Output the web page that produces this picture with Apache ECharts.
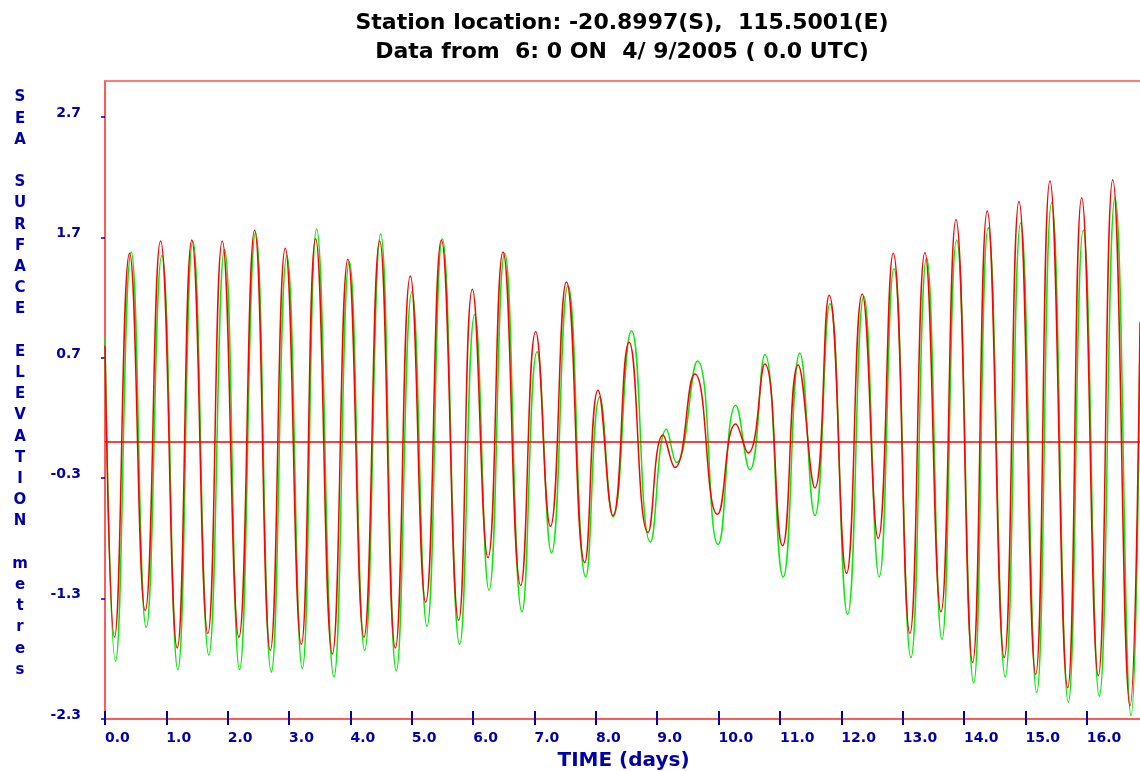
<!DOCTYPE html>
<html>
<head>
<meta charset="utf-8">
<script src="https://cdn.jsdelivr.net/npm/echarts@6/dist/echarts.min.js"></script>
<style>html,body{margin:0;padding:0;background:#fff;}#chart{width:1140px;height:771px;}</style>
</head>
<body>
<div id="chart"></div>
<script>
// Time (days) of red series extrema + endpoints
const redDays = [0, 0.155, 0.40, 0.655, 0.905, 1.177, 1.415, 1.676, 1.911, 2.182, 2.438, 2.694, 2.938, 3.199, 3.432, 3.705, 3.959, 4.220, 4.476, 4.732, 4.976, 5.226, 5.482, 5.764, 5.987, 6.242, 6.486, 6.775, 7.019, 7.259, 7.520, 7.818, 8.035, 8.280, 8.541, 8.850, 9.095, 9.286, 9.612, 9.982, 10.280, 10.481, 10.753, 11.042, 11.296, 11.569, 11.802, 12.085, 12.340, 12.601, 12.845, 13.117, 13.362, 13.623, 13.868, 14.140, 14.378, 14.655, 14.895, 15.167, 15.400, 15.689, 15.917, 16.188, 16.423, 16.705, 16.868];
const redValues = [0.80, -1.62, 1.57, -1.40, 1.67, -1.71, 1.68, -1.59, 1.67, -1.62, 1.76, -1.73, 1.61, -1.68, 1.69, -1.76, 1.52, -1.62, 1.67, -1.71, 1.38, -1.33, 1.68, -1.48, 1.27, -0.96, 1.58, -1.19, 0.92, -0.70, 1.33, -1.00, 0.43, -0.61, 0.83, -0.75, 0.06, -0.21, 0.565, -0.60, 0.15, -0.09, 0.65, -0.86, 0.64, -0.38, 1.22, -1.09, 1.23, -0.80, 1.57, -1.59, 1.575, -1.41, 1.85, -1.83, 1.92, -1.79, 2.00, -1.93, 2.17, -2.04, 2.03, -1.94, 2.18, -2.19, 1.0];
const greenDays = [0, 0.171, 0.427, 0.672, 0.926, 1.187, 1.432, 1.692, 1.948, 2.193, 2.454, 2.710, 2.964, 3.215, 3.449, 3.731, 3.982, 4.231, 4.492, 4.748, 5.002, 5.247, 5.498, 5.780, 6.025, 6.258, 6.514, 6.796, 7.041, 7.276, 7.546, 7.835, 8.063, 8.280, 8.580, 8.890, 9.150, 9.313, 9.656, 9.992, 10.280, 10.509, 10.753, 11.052, 11.324, 11.569, 11.814, 12.102, 12.367, 12.617, 12.857, 13.134, 13.390, 13.639, 13.879, 14.156, 14.394, 14.671, 14.923, 15.184, 15.428, 15.699, 15.943, 16.204, 16.460, 16.721, 16.868];
const greenValues = [0.87, -1.82, 1.58, -1.54, 1.55, -1.89, 1.67, -1.77, 1.60, -1.89, 1.74, -1.91, 1.55, -1.88, 1.77, -1.95, 1.50, -1.73, 1.73, -1.90, 1.25, -1.53, 1.69, -1.68, 1.06, -1.23, 1.57, -1.41, 0.75, -0.92, 1.30, -1.12, 0.375, -0.62, 0.925, -0.83, 0.107, -0.17, 0.675, -0.85, 0.306, -0.23, 0.728, -1.12, 0.74, -0.61, 1.15, -1.43, 1.21, -1.12, 1.44, -1.79, 1.53, -1.64, 1.68, -2.00, 1.78, -1.95, 1.82, -2.08, 1.99, -2.16, 1.76, -2.11, 2.03, -2.27, 0.9];
const yTickStart = -2.3;
const yMax = 3.0;
const xMax = 16.9;
const titleLines = ['Station location: -20.8997(S),  115.5001(E)', 'Data from  6: 0 ON  4/ 9/2005 ( 0.0 UTC)'];
const yAxisTitle = ['SEA', 'SURFACE', 'ELEVATION', 'metres'];
const xAxisTitle = 'TIME (days)';

const blue = '#0000aa';
const border = '#ff5050';
const font = 'DejaVu Sans';

const pair = (xs, ys) => xs.map((x, i) => [x, ys[i]]);
const yName = yAxisTitle.map(w => w.split('').join('\n')).join('\n\n');

const chart = echarts.init(document.getElementById('chart'));
chart.setOption({
  animation: false,
  backgroundColor: '#ffffff',
  title: [{
    text: titleLines.join('\n'),
    left: 622, top: 9, textAlign: 'center', padding: 0,
    textStyle: { fontFamily: font, fontWeight: 'bold', fontSize: 22, lineHeight: 29, color: '#000' }
  }, {
    text: yName,
    left: 20, top: 87, textAlign: 'center', padding: 0,
    textStyle: { fontFamily: font, fontWeight: 'bold', fontSize: 15, lineHeight: 21.2, color: blue, align: 'center' }
  }],
  grid: { left: 105, right: -2, top: 81, bottom: 52, show: true, borderColor: border, borderWidth: 1.5, containLabel: false, outerBoundsMode: 'none' },
  xAxis: [{
    type: 'value', min: 0, max: xMax, interval: 1,
    axisLine: { show: true, onZero: false, lineStyle: { color: border, width: 1.5 } },
    axisTick: { show: true, length: 6, lineStyle: { color: blue, width: 2 } },
    axisLabel: { formatter: v => v.toFixed(1), showMaxLabel: false, color: blue, fontFamily: font, fontWeight: 'bold', fontSize: 14, align: 'left', verticalAlign: 'top', lineHeight: 14, margin: 12 },
    splitLine: { show: false },
    name: xAxisTitle, nameLocation: 'middle', nameGap: 32,
    nameTextStyle: { color: blue, fontFamily: font, fontWeight: 'bold', fontSize: 20, lineHeight: 20 }
  }, {
    type: 'value', min: 0, max: xMax, interval: 1, position: 'bottom',
    axisLine: { show: false, onZero: false },
    axisTick: { show: true, inside: true, length: 8, lineStyle: { color: blue, width: 2 } },
    axisLabel: { show: false },
    splitLine: { show: false }
  }],
  yAxis: {
    type: 'value', min: yTickStart, max: yMax, interval: 1,
    axisLine: { show: true, onZero: false, lineStyle: { color: border, width: 1.5 } },
    axisTick: { show: true, length: 4, lineStyle: { color: blue, width: 1.5 } },
    axisLabel: { formatter: v => v.toFixed(1), showMaxLabel: false, color: blue, fontFamily: font, fontWeight: 'bold', fontSize: 14, margin: 24, verticalAlign: 'bottom', lineHeight: 8 },
    splitLine: { show: false }
  },
  series: [{
    name: 'green', type: 'line', data: pair(greenDays, greenValues), smooth: 0.5,
    showSymbol: false, symbol: 'none', lineStyle: { color: '#00ee00', width: 1.5 }, z: 2
  }, {
    name: 'red', type: 'line', data: pair(redDays, redValues), smooth: 0.5,
    showSymbol: false, symbol: 'none', lineStyle: { color: '#ff0000', width: 1.5 }, z: 3,
    markLine: { silent: true, symbol: 'none', label: { show: false }, lineStyle: { color: '#ff0000', width: 1.5, type: 'solid' }, data: [{ yAxis: 0 }] }
  }]
});
</script>
</body>
</html>
